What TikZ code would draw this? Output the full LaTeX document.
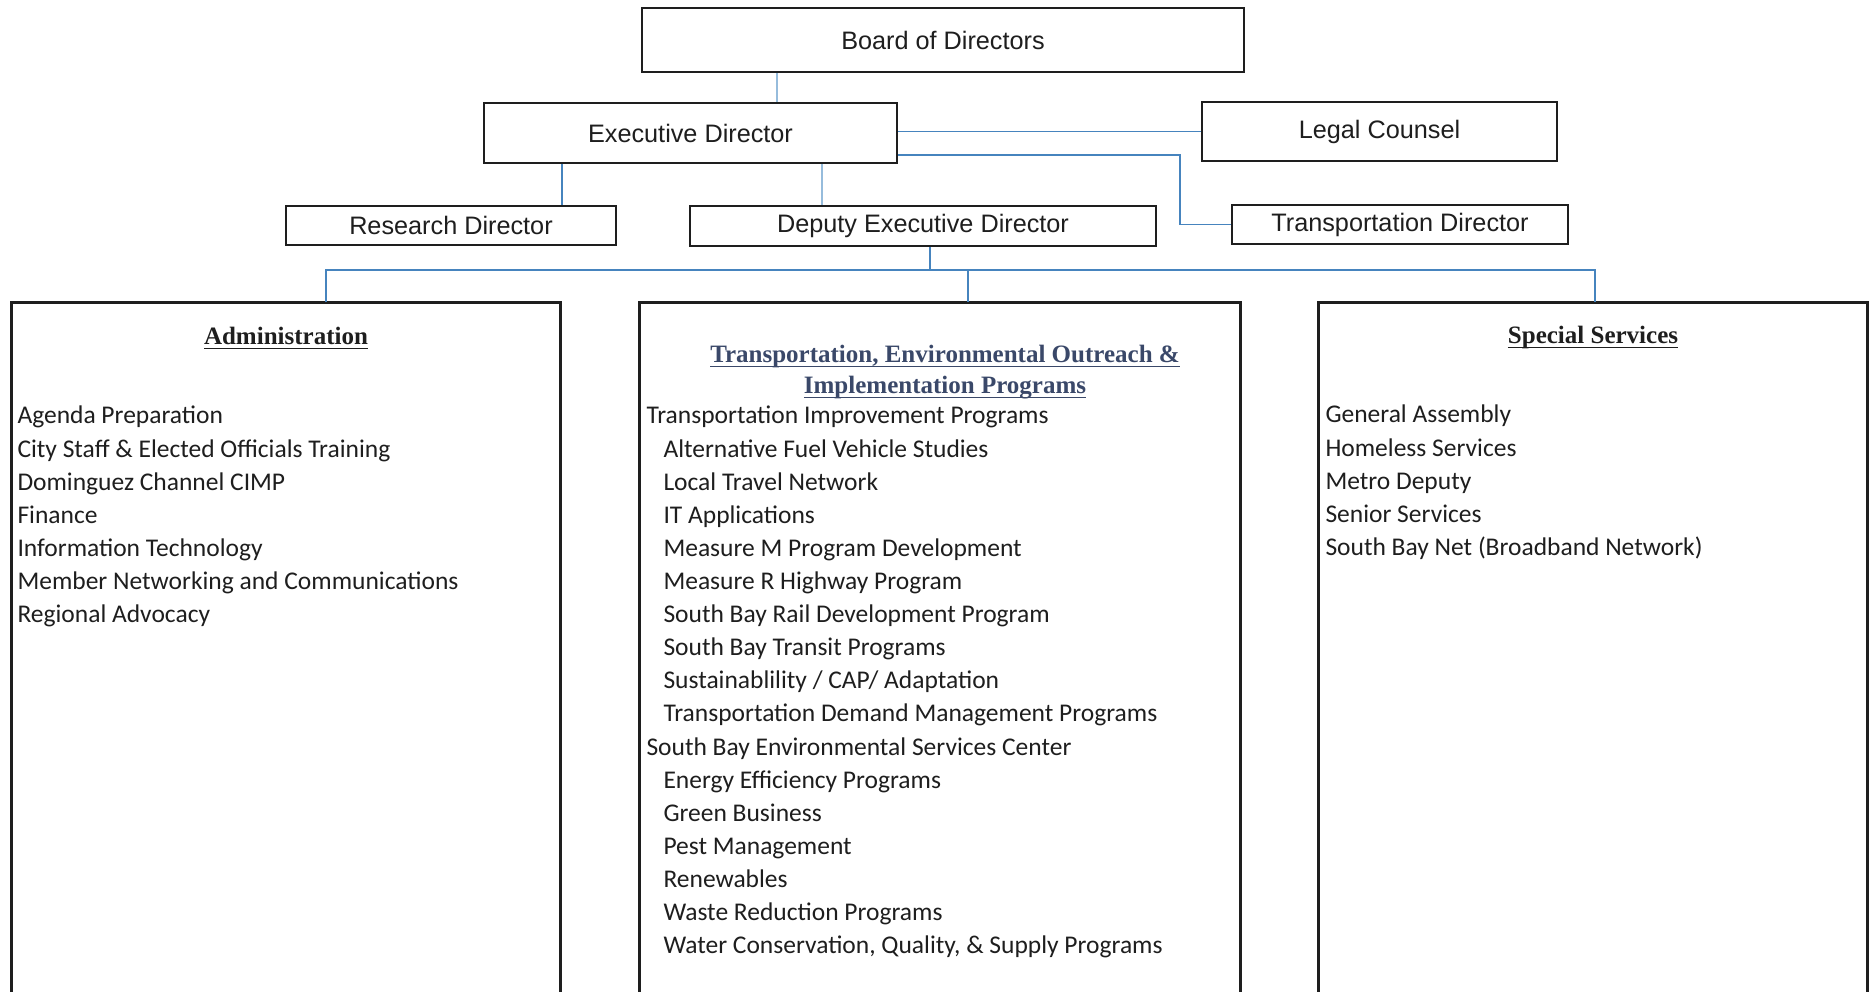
\documentclass[tikz,border=0pt]{standalone}
\usepackage{fontspec}
\setmainfont{Liberation Serif}
\newfontfamily\arialf{Liberation Sans}
\newfontfamily\calf{Carlito}
\definecolor{connblue}{RGB}{70,132,190}
\definecolor{connlight}{RGB}{150,188,220}
\definecolor{headblue}{RGB}{58,72,105}
\definecolor{ink}{RGB}{30,30,30}
\newcommand\headul[1]{\underline{\smash{#1}}}
\begin{document}
\begin{tikzpicture}[x=0.4pt,y=-0.4pt,
  box/.style={draw=ink, line width=1pt, rectangle, inner sep=0pt,
    font=\arialf\fontsize{10.1pt}{12pt}\selectfont, text=ink},
  conn/.style={draw=connblue, line width=0.65pt},
  lconn/.style={draw=connlight, line width=0.55pt},
  region/.style={rectangle, inner sep=0pt, minimum height=278.8pt},
  bigbox/.style={draw=ink, line width=0.9pt},
  head/.style={font=\bfseries\fontsize{10pt}{12pt}\selectfont, text=ink, inner sep=0pt, anchor=base},
  item/.style={font=\calf\fontsize{10.2pt}{12pt}\selectfont, text=ink, inner sep=0pt, anchor=base west},
]
\useasboundingbox (0,0) rectangle (1875,992);
\fill[white] (0,0) rectangle (1875,992);

% top boxes
\node[box, minimum width=240.8pt, minimum height=25.6pt] (board) at (943,40) {Board of Directors};
\node[box, minimum width=165.2pt, minimum height=24pt] (exec) at (690.5,133) {Executive Director};
\node[box, minimum width=142pt, minimum height=23.6pt] (legal) at (1379.5,131.5) {Legal Counsel};
\node[box, minimum width=132pt, minimum height=15.6pt] (research) at (451,225.5) {Research Director};
\node[box, minimum width=186.4pt, minimum height=16pt] (deputy) at (923,226) {Deputy Executive Director};
\node[box, minimum width=134.4pt, minimum height=15.6pt] (transdir) at (1400,224.5) {Transportation Director};

% big regions (open at the bottom)
\node[region, minimum width=219.2pt] (admin) at (286,651.5) {};
\node[region, minimum width=240pt] (trans) at (940,651.5) {};
\node[region, minimum width=219.2pt] (special) at (1593,651.5) {};
\foreach \r in {admin,trans,special}
  \draw[bigbox] (\r.south west) -- (\r.north west) -- (\r.north east) -- (\r.south east);

% junction coordinates
\coordinate (jboard) at (777,0);
\coordinate (jres) at (562,0);
\coordinate (jdep) at (822,0);
\coordinate (jtd) at (1180,155);
\coordinate (jdown) at (930,0);
\coordinate (bus) at (0,270);
\coordinate (ja) at (326,0);
\coordinate (jt) at (968,0);
\coordinate (js) at (1595,0);

% connectors
\draw[lconn] (board.south -| jboard) -- (exec.north -| jboard);
\draw[conn] (legal.west) -- (legal.west -| exec.east);
\draw[conn] (exec.east |- jtd) -- (jtd) |- (transdir.west);
\draw[conn] (exec.south -| jres) -- (research.north -| jres);
\draw[lconn] (exec.south -| jdep) -- (deputy.north -| jdep);
\draw[conn] (deputy.south -| jdown) -- (jdown |- bus);
\draw[conn] (admin.north -| ja) -- (ja |- bus) -- (js |- bus) -- (special.north -| js);
\draw[conn] (jt |- bus) -- (trans.north -| jt);

% headings
\node[head] (adminhead) at (286,345) {\headul{Administration}};
\node[head, text=headblue] (transhead1) at (945,363) {\headul{Transportation, Environmental Outreach \&}};
\node[head, text=headblue] (transhead2) at (945,394) {\headul{Implementation Programs}};
\node[head] (specialhead) at (1593,344) {\headul{Special Services}};

% administration items
\foreach \t [count=\i] in {Agenda Preparation, City Staff \& Elected Officials Training,
  Dominguez Channel CIMP, Finance, Information Technology,
  Member Networking and Communications, Regional Advocacy}
  \node[item] (adm\i) at (17,{424+33.1*(\i-1)}) {\t};

% transportation items
\foreach \lv/\t [count=\i] in {0/{Transportation Improvement Programs},
  1/{Alternative Fuel Vehicle Studies}, 1/{Local Travel Network}, 1/{IT Applications},
  1/{Measure M Program Development}, 1/{Measure R Highway Program},
  1/{South Bay Rail Development Program}, 1/{South Bay Transit Programs},
  1/{Sustainablility / CAP/ Adaptation}, 1/{Transportation Demand Management Programs},
  0/{South Bay Environmental Services Center},
  1/{Energy Efficiency Programs}, 1/{Green Business}, 1/{Pest Management},
  1/{Renewables}, 1/{Waste Reduction Programs},
  1/{Water Conservation, Quality, \& Supply Programs}}
  \node[item] (tr\i) at ({646+17*\lv},{424+33.1*(\i-1)}) {\t};

% special services items
\foreach \t [count=\i] in {General Assembly, Homeless Services, Metro Deputy,
  Senior Services, South Bay Net (Broadband Network)}
  \node[item] (sp\i) at (1325,{423+33.1*(\i-1)}) {\t};
\end{tikzpicture}
\end{document}
